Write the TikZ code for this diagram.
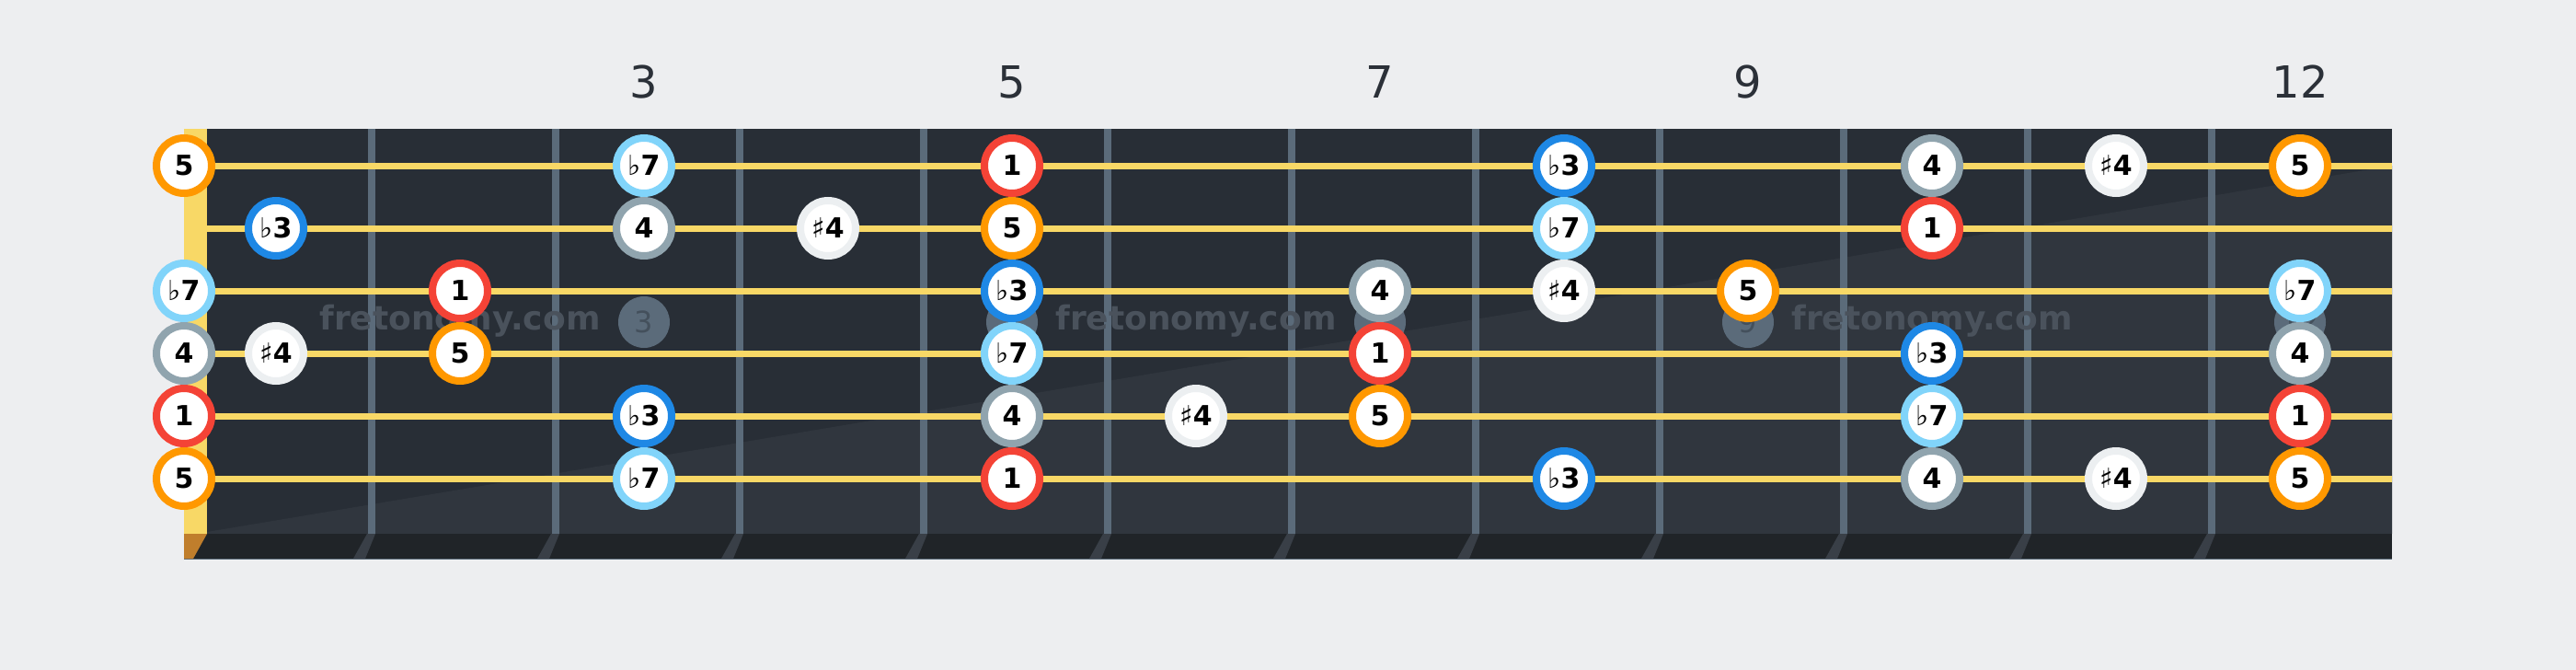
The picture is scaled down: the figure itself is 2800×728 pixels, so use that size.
\documentclass[tikz,border=0pt]{standalone}
\usepackage{fontspec}
\setmainfont{DejaVu Sans}
\usepackage{tikz}
\usetikzlibrary{positioning}

\definecolor{bgcol}{HTML}{EDEEF0}
\definecolor{boardtop}{HTML}{282E36}
\definecolor{boardlow}{HTML}{30363E}
\definecolor{boardedge}{HTML}{202428}
\definecolor{fretcol}{HTML}{5B6B7A}
\definecolor{stringcol}{HTML}{F8D866}
\definecolor{nutlow}{HTML}{C07E2C}
\definecolor{shadowcol}{HTML}{393F47}
\definecolor{marktext}{HTML}{44505C}
\definecolor{wmcol}{HTML}{4A525C}
\definecolor{numcol}{HTML}{2B3038}
\definecolor{rootcol}{HTML}{F44336}
\definecolor{fifthcol}{HTML}{FF9800}
\definecolor{thirdcol}{HTML}{1E88E5}
\definecolor{seventhcol}{HTML}{81D4FA}
\definecolor{fourthcol}{HTML}{90A4AE}
\definecolor{sharpcol}{HTML}{ECEFF1}

\newcommand{\flt}{{\mdseries ♭}}
\newcommand{\shp}{{\mdseries ♯}}

\begin{document}
\begin{tikzpicture}[x=1pt,y=-1pt,
    note/.style={circle, fill=white, draw=#1, line width=8pt, minimum size=60pt,
      inner sep=0pt, text=black, font=\fontsize{30}{30}\selectfont\bfseries},
    ione/.style={note=rootcol},
    ifive/.style={note=fifthcol},
    ithree/.style={note=thirdcol},
    iseven/.style={note=seventhcol},
    ifour/.style={note=fourthcol},
    isharp/.style={note=sharpcol},
    inlay/.style={circle, fill=fretcol, minimum size=56pt, inner sep=0pt,
      text=marktext, font=\fontsize{32}{32}\selectfont},
    wmark/.style={text=wmcol, font=\fontsize{36}{36}\selectfont\bfseries},
    fretnum/.style={text=numcol, font=\fontsize{48}{48}\selectfont}]

    % page and board
    \fill[bgcol] (0,0) rectangle (2800,728);
    \useasboundingbox (0,0) rectangle (2800,728);
    \fill[boardtop] (225,140) rectangle (2600,580);
    \fill[boardlow] (225,578) -- (2600,180) -- (2600,580) -- (225,580) -- cycle;
    \fill[boardedge] (200,580) rectangle (2600,608);
    \draw[fretcol, line width=1.5pt] (200,607.5) -- (2600,607.5);

    % nut
    \fill[stringcol] (200,140) rectangle (225,580);
    \fill[nutlow] (200,580) -- (225,580) -- (210,607) -- (200,607) -- cycle;

    % frets
    \foreach \x in {400,600,...,2400}
        \fill[shadowcol] (\x-1,580) -- (\x+8,580) -- (\x-3,607) -- (\x-16,607) -- cycle;
    \foreach \x in {404,604,...,2404}
        \draw[fretcol, line width=8pt] (\x,140) -- (\x,580);

    % inlays and watermark
    \foreach \f in {3,5,7,9,12}
        \node[inlay] (mark\f) at (200*\f+100,350) {\f};
    \foreach \x in {500,1300,2100}
        \node[wmark] (wm\x) at (\x,349) {fretonomy.com};

    % strings
    \foreach \y in {180,248,...,520}
        \draw[stringcol, line width=7pt] (225,\y) -- (2600,\y);

    % string 1
    \node[ifive]  (n1-0)  at (200,180)  {5};
    \node[iseven] (n1-3)  at (700,180)  {\flt7};
    \node[ione]   (n1-5)  at (1100,180) {1};
    \node[ithree] (n1-8)  at (1700,180) {\flt3};
    \node[ifour]  (n1-10) at (2100,180) {4};
    \node[isharp] (n1-11) at (2300,180) {\shp4};
    \node[ifive]  (n1-12) at (2500,180) {5};
    % string 2
    \node[ithree] (n2-1)  at (300,248)  {\flt3};
    \node[ifour]  (n2-3)  at (700,248)  {4};
    \node[isharp] (n2-4)  at (900,248)  {\shp4};
    \node[ifive]  (n2-5)  at (1100,248) {5};
    \node[iseven] (n2-8)  at (1700,248) {\flt7};
    \node[ione]   (n2-10) at (2100,248) {1};
    % string 3
    \node[iseven] (n3-0)  at (200,316)  {\flt7};
    \node[ione]   (n3-2)  at (500,316)  {1};
    \node[ithree] (n3-5)  at (1100,316) {\flt3};
    \node[ifour]  (n3-7)  at (1500,316) {4};
    \node[isharp] (n3-8)  at (1700,316) {\shp4};
    \node[ifive]  (n3-9)  at (1900,316) {5};
    \node[iseven] (n3-12) at (2500,316) {\flt7};
    % string 4
    \node[ifour]  (n4-0)  at (200,384)  {4};
    \node[isharp] (n4-1)  at (300,384)  {\shp4};
    \node[ifive]  (n4-2)  at (500,384)  {5};
    \node[iseven] (n4-5)  at (1100,384) {\flt7};
    \node[ione]   (n4-7)  at (1500,384) {1};
    \node[ithree] (n4-10) at (2100,384) {\flt3};
    \node[ifour]  (n4-12) at (2500,384) {4};
    % string 5
    \node[ione]   (n5-0)  at (200,452)  {1};
    \node[ithree] (n5-3)  at (700,452)  {\flt3};
    \node[ifour]  (n5-5)  at (1100,452) {4};
    \node[isharp] (n5-6)  at (1300,452) {\shp4};
    \node[ifive]  (n5-7)  at (1500,452) {5};
    \node[iseven] (n5-10) at (2100,452) {\flt7};
    \node[ione]   (n5-12) at (2500,452) {1};
    % string 6
    \node[ifive]  (n6-0)  at (200,520)  {5};
    \node[iseven] (n6-3)  at (700,520)  {\flt7};
    \node[ione]   (n6-5)  at (1100,520) {1};
    \node[ithree] (n6-8)  at (1700,520) {\flt3};
    \node[ifour]  (n6-10) at (2100,520) {4};
    \node[isharp] (n6-11) at (2300,520) {\shp4};
    \node[ifive]  (n6-12) at (2500,520) {5};

    % fret numbers
    \foreach \f in {3,5,7,9,12}
        \node[fretnum] (num\f) at (200*\f+100,89) {\f};
\end{tikzpicture}
\end{document}
